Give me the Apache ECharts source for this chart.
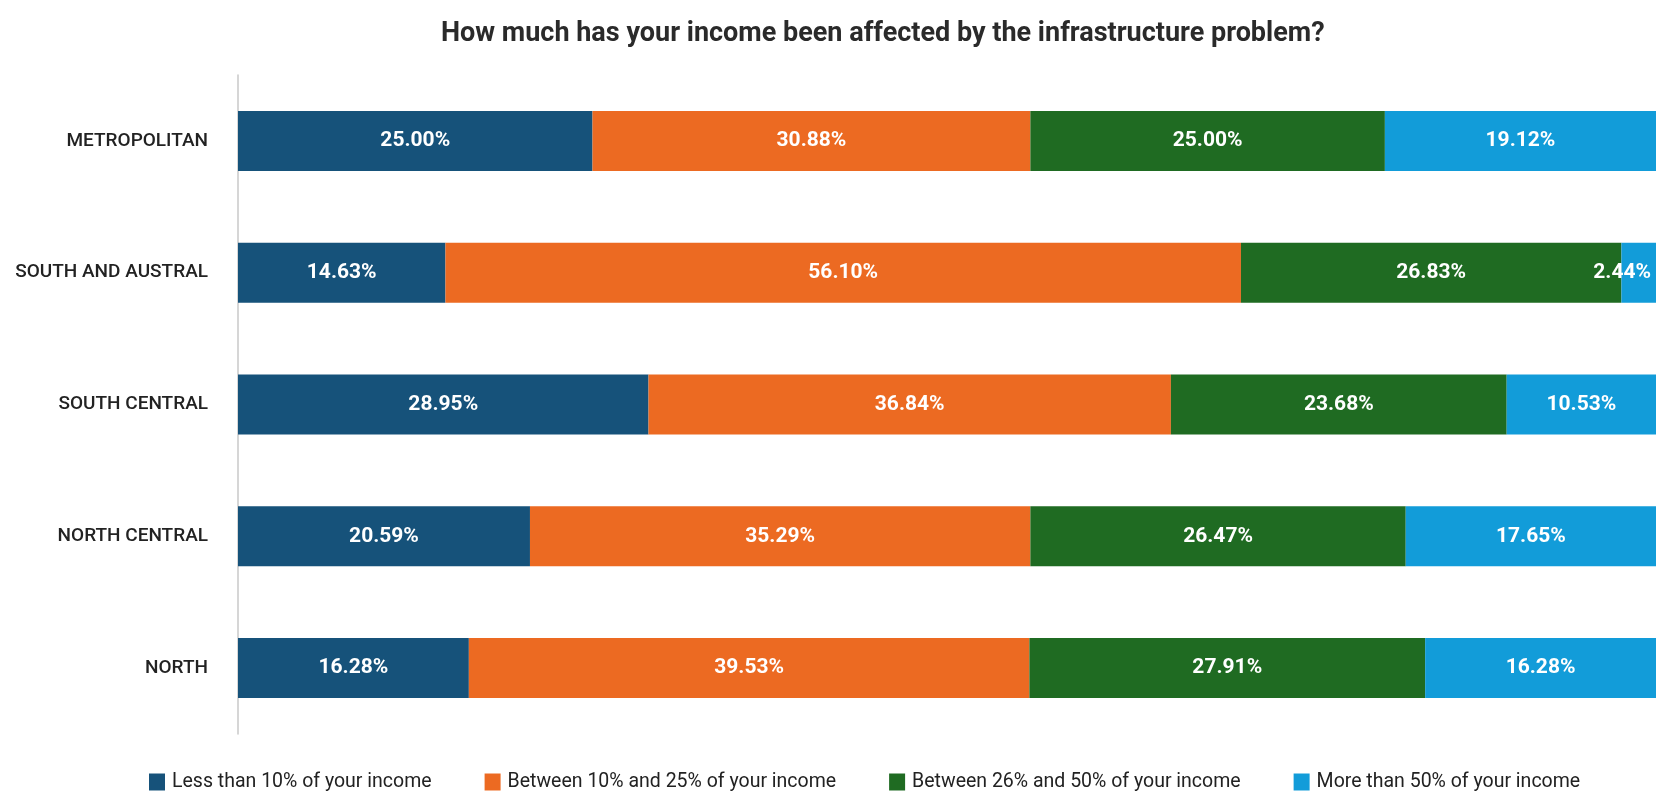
<!DOCTYPE html>
<html>
<head>
<meta charset="utf-8">
<title>Income affected by the infrastructure problem</title>
<script src="https://cdn.jsdelivr.net/npm/echarts@6/dist/echarts.min.js"></script>
<style>
  html, body { margin: 0; padding: 0; background: #ffffff; }
  #chart { width: 1656px; height: 811px; }
</style>
</head>
<body>
<div id="chart"></div>
<script>
// Regions, listed top to bottom
const regions = ['METROPOLITAN', 'SOUTH AND AUSTRAL', 'SOUTH CENTRAL', 'NORTH CENTRAL', 'NORTH'];

// Share of respondents (%) in each income-impact bracket, per region
const lessThan10 = [25.00, 14.63, 28.95, 20.59, 16.28];
const between10and25 = [30.88, 56.10, 36.84, 35.29, 39.53];
const between26and50 = [25.00, 26.83, 23.68, 26.47, 27.91];
const moreThan50 = [19.12, 2.44, 10.53, 17.65, 16.28];

const seriesNames = [
  'Less than 10% of your income',
  'Between 10% and 25% of your income',
  'Between 26% and 50% of your income',
  'More than 50% of your income'
];
const seriesValues = [lessThan10, between10and25, between26and50, moreThan50];
const seriesColors = ['#16527a', '#ec6a22', '#1f6b22', '#129cd9'];

const FONT = 'Roboto, "Noto Sans", sans-serif';

// Very thin segments at the right end get their label pinned to the bar's end
function toItems(values) {
  return values.map(v => (v < 5
    ? { value: v, label: { position: 'insideRight', distance: 5 } }
    : v));
}

const chart = echarts.init(document.getElementById('chart'), null, { renderer: 'canvas' });

chart.setOption({
  backgroundColor: '#ffffff',
  animation: false,
  title: {
    text: 'How much has your income been affected by the infrastructure problem?',
    left: 436,
    top: 16,
    textStyle: { fontFamily: FONT, fontSize: 27, fontWeight: 'bold', color: '#2a2a2a' }
  },
  legend: {
    left: 144,
    top: 767,
    itemWidth: 16,
    itemHeight: 17,
    itemGap: 53,
    icon: 'rect',
    textStyle: { fontFamily: FONT, fontSize: 19.5, color: '#222222', padding: [0, 0, 0, 2] },
    data: seriesNames
  },
  grid: { left: 238, right: 0, top: 75, bottom: 77 },
  xAxis: {
    type: 'value',
    min: 0,
    max: 100,
    show: false
  },
  yAxis: {
    type: 'category',
    inverse: true,
    data: regions,
    axisLine: { show: true, lineStyle: { color: '#c8c8c8', width: 1.5 } },
    axisTick: { show: false },
    axisLabel: { fontFamily: FONT, fontSize: 19, fontWeight: 500, color: '#222222', margin: 30 }
  },
  series: seriesNames.map((name, i) => ({
    name: name,
    type: 'bar',
    stack: 'total',
    barWidth: 60,
    data: toItems(seriesValues[i]),
    itemStyle: { color: seriesColors[i] },
    label: {
      show: true,
      position: 'inside',
      fontFamily: FONT,
      fontSize: 21,
      fontWeight: 'bold',
      color: '#ffffff',
      formatter: p => p.value.toFixed(2) + '%'
    }
  }))
});
</script>
</body>
</html>
